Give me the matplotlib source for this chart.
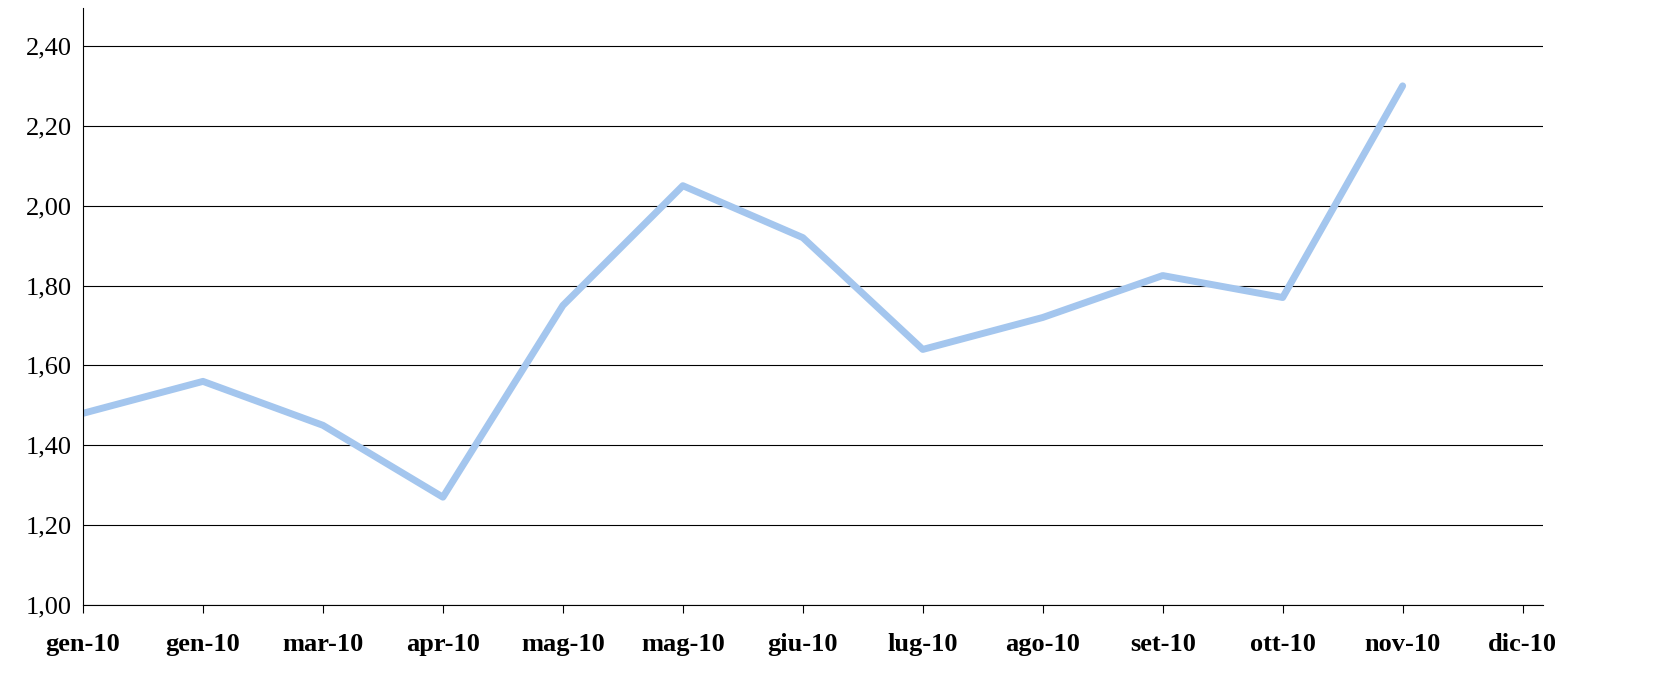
import matplotlib
matplotlib.use("Agg")
import matplotlib.pyplot as plt
from matplotlib.ticker import FuncFormatter

labels = ["gen-10","gen-10","mar-10","apr-10","mag-10","mag-10","giu-10","lug-10","ago-10","set-10","ott-10","nov-10","dic-10"]
values = [1.48,1.56,1.45,1.27,1.75,2.05,1.92,1.64,1.72,1.825,1.77,2.30]

plt.rcParams['font.family'] = ['Liberation Serif', 'DejaVu Serif']
fig = plt.figure(figsize=(16.63,7), dpi=100)
ax = fig.add_axes([83/1663, 95/700, (1543-83)/1663, (605-8)/700])
ax.plot(range(len(values)), values, color='#a4c6ee', lw=5, solid_capstyle='round')
ax.set_xlim(0, 12.17)
ax.set_ylim(1.0, 2.495)
ax.set_yticks([1.0,1.2,1.4,1.6,1.8,2.0,2.2,2.4])
ax.yaxis.set_major_formatter(FuncFormatter(lambda v,p: f"{v:.2f}".replace('.',',')))
ax.grid(axis='y', color='black', lw=0.8)
ax.set_axisbelow(True)
ax.set_xticks(range(len(labels)))
ax.set_xticklabels(labels, fontweight='bold', fontsize=19)
ax.tick_params(axis='y', labelsize=19, length=0, pad=8)
ax.tick_params(axis='x', length=6, direction='out', pad=14)
for s in ['top','right']:
    ax.spines[s].set_visible(False)
fig.savefig("out.png", dpi=100)
